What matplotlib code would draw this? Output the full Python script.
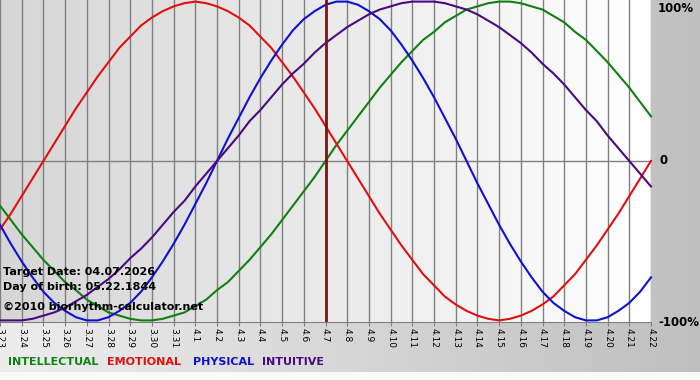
import numpy as np
import matplotlib
matplotlib.use("Agg")
import matplotlib.pyplot as plt

# day labels, 3.23 .. 4.22
dates = ['3.%d' % d for d in range(23, 32)] + ['4.%d' % d for d in range(1, 23)]

# values in % every half day, 3.23 -> 4.22
physical = [-40, -52, -63, -73, -82, -89, -94, -98, -100, -100, -98, -94, -89, -82, -73, -63,
            -52, -40, -27, -14, 0, 14, 27, 40, 52, 63, 73, 82, 89, 94, 98, 100,
            100, 98, 94, 89, 82, 73, 63, 52, 40, 27, 14, 0, -14, -27, -40, -52,
            -63, -73, -82, -89, -94, -98, -100, -100, -98, -94, -89, -82, -73]
emotional = [-43, -33, -22, -11, 0, 11, 22, 33, 43, 53, 62, 71, 78, 85, 90, 94,
             97, 99, 100, 99, 97, 94, 90, 85, 78, 71, 62, 53, 43, 33, 22, 11,
             0, -11, -22, -33, -43, -53, -62, -71, -78, -85, -90, -94, -97, -99, -100, -99,
             -97, -94, -90, -85, -78, -71, -62, -53, -43, -33, -22, -11, 0]
intellectual = [-28, -37, -46, -54, -62, -69, -76, -81, -87, -91, -95, -97, -99, -100, -100, -99,
                -97, -95, -91, -87, -81, -76, -69, -62, -54, -46, -37, -28, -19, -10, 0, 10,
                19, 28, 37, 46, 54, 62, 69, 76, 81, 87, 91, 95, 97, 99, 100, 100,
                99, 97, 95, 91, 87, 81, 76, 69, 62, 54, 46, 37, 28]
intuitive = [-100, -100, -100, -99, -97, -95, -92, -88, -84, -79, -74, -68, -61, -55, -48, -40,
             -32, -25, -16, -8, 0, 8, 16, 25, 32, 40, 48, 55, 61, 68, 74, 79,
             84, 88, 92, 95, 97, 99, 100, 100, 100, 99, 97, 95, 92, 88, 84, 79,
             74, 68, 61, 55, 48, 40, 32, 25, 16, 8, 0, -8, -16]

target_day = '4.7'
legend_names = ['INTELLECTUAL', 'EMOTIONAL', 'PHYSICAL', 'INTUITIVE']

c_int = '#127f12'
c_emo = '#e01010'
c_phy = '#1010d0'
c_itu = '#4a0a80'

W, H = 700, 380
fig = plt.figure(figsize=(7, 3.8), dpi=100)

# whole-figure background
bg = fig.add_axes([0, 0, 1, 1])
bg.set_axis_off()
g = np.linspace(0.93, 0.75, 256)
grad = np.dstack([g, g, g]).repeat(2, axis=0)
bg.imshow(grad, extent=[0, W, 372, 0], aspect='auto')
bg.imshow(np.ones((2, 2, 3)) * 0.98, extent=[0, W, H, 372], aspect='auto')
bg.set_xlim(0, W)
bg.set_ylim(H, 0)

# plot area
px_right, px_bottom = 651, 322
ax = fig.add_axes([0, 1 - px_bottom / H, px_right / W, px_bottom / H])
x = np.arange(len(dates))
xs = np.arange(len(physical)) / 2.0   # half-day steps
ax.set_xlim(0, len(dates) - 1)
ax.set_ylim(-101, 101)

p = np.linspace(0.84, 1.0, 256)
pgrad = np.dstack([p, p, p]).repeat(2, axis=0)
ax.imshow(pgrad, extent=[0, len(dates) - 1, -101, 101], aspect='auto', zorder=0)

ax.set_xticks(x)
ax.set_xticklabels(dates, rotation=270, fontsize=6.5)
ax.tick_params(axis='x', length=3, color='#808080', pad=1)
ax.set_yticks([])
ax.grid(axis='x', color='#808080', lw=1, zorder=1)
ax.set_axisbelow(True)
ax.axhline(0, color='#808080', lw=1, zorder=1)
for s in ['left', 'top', 'right']:
    ax.spines[s].set_visible(False)
ax.spines['bottom'].set_color('#808080')

ax.plot(xs, intellectual, color=c_int, lw=1.5, zorder=3, clip_on=False)
ax.plot(xs, emotional, color=c_emo, lw=1.5, zorder=3, clip_on=False)
ax.plot(xs, physical, color=c_phy, lw=1.5, zorder=3, clip_on=False)
ax.plot(xs, intuitive, color=c_itu, lw=1.5, zorder=3, clip_on=False)

ax.axvline(dates.index(target_day), color='#7a1414', lw=2, zorder=4)

# right side scale
fig.text(658 / W, 1 - 8 / H, '100%', fontsize=8.5, weight='bold', va='center')
fig.text(660 / W, 1 - 161 / H, '0', fontsize=8.5, weight='bold', va='center')
fig.text(658 / W, 1 - 322 / H, '-100%', fontsize=8.5, weight='bold', va='center')

# info text
fig.text(3 / W, 1 - 272 / H, 'Target Date: 04.07.2026', fontsize=8, weight='bold', va='center')
fig.text(3 / W, 1 - 287 / H, 'Day of birth: 05.22.1844', fontsize=8, weight='bold', va='center')
fig.text(3 / W, 1 - 307 / H, '\u00a92010 biorhythm-calculator.net', fontsize=8, weight='bold', va='center')

# legend
for name, col, xp in zip(legend_names, [c_int, c_emo, c_phy, c_itu], [8, 107, 193, 262]):
    fig.text(xp / W, 1 - 362 / H, name, fontsize=8, weight='bold', color=col, va='center')

fig.savefig('out.png', dpi=100)
